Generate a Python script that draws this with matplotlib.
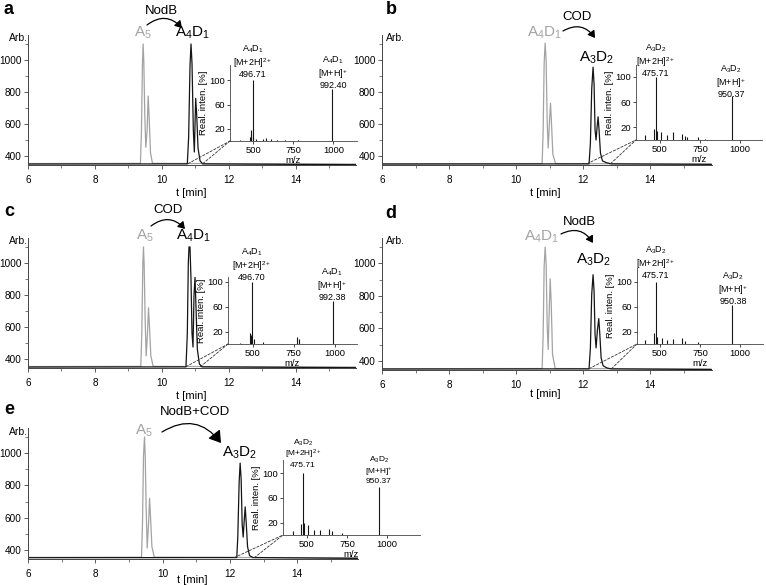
import matplotlib
matplotlib.use("Agg")
import matplotlib.pyplot as plt
from matplotlib.patches import FancyArrowPatch, ConnectionPatch
from matplotlib.ticker import MultipleLocator

plt.rcParams['font.family'] = 'Liberation Sans'
plt.rcParams['mathtext.fontset'] = 'custom'
plt.rcParams['mathtext.rm'] = 'Liberation Sans'
plt.rcParams['mathtext.it'] = 'Liberation Sans:italic'
plt.rcParams['mathtext.bf'] = 'Liberation Sans:bold'

W, H = 766, 585
GRAY = '#a3a3a3'
BLACK = '#151515'

# ---- chromatogram traces (t [min], Arb.) ----
a_gray_t = [6.0, 9.36, 9.39, 9.42, 9.44, 9.46, 9.49, 9.52, 9.56, 9.59, 9.62, 9.66, 9.72, 15.8]
a_gray_y = [353, 354, 560, 980, 1100, 990, 650, 455, 560, 775, 640, 420, 354, 350]
a_black_t = [6.0, 10.76, 10.80, 10.84, 10.87, 10.90, 10.94, 10.97, 11.01, 11.04, 11.08, 11.14, 11.22, 15.8]
a_black_y = [350, 351, 520, 960, 1100, 980, 560, 425, 760, 660, 450, 370, 351, 346]

b_gray_t = [6.0, 10.78, 10.81, 10.84, 10.87, 10.90, 10.93, 10.96, 11.00, 11.03, 11.06, 11.10, 11.18, 15.8]
b_gray_y = [352, 353, 560, 980, 1105, 990, 620, 450, 620, 730, 600, 410, 353, 350]
b_black_t = [6.0, 12.18, 12.22, 12.26, 12.30, 12.33, 12.36, 12.39, 12.42, 12.45, 12.48, 12.52, 12.58, 12.70, 12.85, 15.85]
b_black_y = [350, 351, 480, 820, 955, 850, 560, 500, 580, 645, 560, 420, 370, 358, 351, 348]

c_gray_t = [6.0, 9.37, 9.40, 9.43, 9.45, 9.47, 9.50, 9.53, 9.57, 9.60, 9.63, 9.67, 9.74, 15.8]
c_gray_y = [353, 354, 560, 980, 1100, 990, 650, 420, 560, 720, 600, 420, 354, 350]
c_black_t = [6.0, 10.72, 10.76, 10.79, 10.81, 10.84, 10.87, 10.90, 10.93, 10.96, 10.99, 11.02, 11.06, 11.12, 11.20, 15.8]
c_black_y = [350, 351, 560, 1000, 1100, 1100, 900, 560, 475, 800, 910, 720, 460, 370, 351, 346]

d_gray_t = [6.0, 10.78, 10.81, 10.84, 10.87, 10.90, 10.93, 10.96, 10.99, 11.02, 11.05, 11.09, 11.17, 15.8]
d_gray_y = [352, 353, 560, 980, 1100, 990, 620, 470, 700, 905, 760, 440, 353, 350]
d_black_t = [6.0, 12.18, 12.22, 12.26, 12.30, 12.33, 12.36, 12.39, 12.43, 12.47, 12.50, 12.54, 12.60, 12.72, 12.85, 15.85]
d_black_y = [350, 351, 480, 810, 930, 830, 560, 480, 590, 660, 570, 420, 370, 356, 351, 347]

e_gray_t = [6.0, 9.37, 9.40, 9.43, 9.46, 9.48, 9.51, 9.54, 9.58, 9.61, 9.64, 9.68, 9.75, 15.8]
e_gray_y = [354, 355, 560, 980, 1100, 990, 650, 412, 560, 720, 600, 420, 355, 351]
e_black_t = [6.0, 12.20, 12.23, 12.27, 12.30, 12.33, 12.36, 12.39, 12.42, 12.45, 12.48, 12.52, 12.58, 12.68, 15.8]
e_black_y = [352, 353, 480, 820, 938, 840, 560, 480, 580, 667, 570, 420, 365, 353, 348]

# ---- mass spectra (m/z, relative intensity %) ----
a_ms_mz = [420, 480, 484, 489, 496.71, 500, 520, 560, 580, 610, 650, 700, 780, 992.40]
a_ms_int = [2, 6, 18, 12, 100, 6, 3, 4, 5, 3, 2, 2, 2, 85]
b_ms_mz = [410, 466, 475.71, 484, 510, 545, 580, 640, 655, 670, 740, 780, 950.37]
b_ms_int = [8, 18, 100, 15, 12, 8, 12, 10, 6, 4, 5, 2, 70]
c_ms_mz = [420, 485, 490, 496.70, 505, 560, 770, 780, 992.38]
c_ms_int = [2, 18, 15, 100, 8, 3, 12, 8, 70]
d_ms_mz = [410, 466, 475.71, 481, 510, 545, 580, 640, 655, 740, 950.38]
d_ms_int = [6, 18, 100, 12, 10, 6, 8, 10, 5, 3, 63]
e_ms_mz = [415, 466, 475.71, 481, 510, 545, 580, 640, 655, 720, 950.37]
e_ms_int = [6, 18, 100, 20, 16, 8, 8, 10, 6, 4, 77]

fig = plt.figure(figsize=(W / 100, H / 100), dpi=100)


def rect(l, t, r, b):
    return [l / W, 1 - b / H, (r - l) / W, (b - t) / H]


def ftext(x, y, s, **kw):
    kw.setdefault('ha', 'center')
    kw.setdefault('va', 'center')
    fig.text(x / W, 1 - y / H, s, **kw)


def arrow(x0, y0, x1, y1, big=False):
    style = '-|>,head_length=7,head_width=4.5' if big else '-|>,head_length=4,head_width=2.5'
    fig.patches.append(FancyArrowPatch(
        (x0 / W, 1 - y0 / H), (x1 / W, 1 - y1 / H), transform=fig.transFigure,
        connectionstyle='arc3,rad=-0.45', arrowstyle=style, color='black',
        lw=0.9, shrinkA=0, shrinkB=0))


def chrom(box, xmax, gray, black):
    ax = fig.add_axes(rect(*box))
    ax.plot(gray[0], gray[1], color=GRAY, lw=0.9)
    ax.plot(black[0], black[1], color=BLACK, lw=0.9)
    ax.set_xlim(6, xmax)
    ax.set_ylim(344, 1156)
    ax.set_xticks([6, 8, 10, 12, 14])
    ax.set_yticks([400, 600, 800, 1000])
    ax.xaxis.set_minor_locator(MultipleLocator(1))
    ax.yaxis.set_minor_locator(MultipleLocator(100))
    for s in ['top', 'right']:
        ax.spines[s].set_visible(False)
    for s in ['left', 'bottom']:
        ax.spines[s].set_color('#444444')
        ax.spines[s].set_linewidth(0.7)
    ax.tick_params(which='major', length=3, width=0.6, labelsize=7.2, colors='#444444',
                   labelcolor='black')
    ax.tick_params(axis='y', which='major', pad=1.5)
    ax.tick_params(axis='x', which='major', pad=4)
    ax.tick_params(which='minor', length=2, width=0.5, colors='#444444')
    return ax


def spectrum(box, xlim, ylim, mz, inten):
    ax = fig.add_axes(rect(*box))
    ax.vlines(mz, 0, inten, color=BLACK, lw=0.8)
    ax.set_xlim(*xlim)
    ax.set_ylim(*ylim)
    ax.set_xticks([500, 750, 1000])
    ax.set_yticks([20, 60, 100])
    ax.patch.set_alpha(0)
    for s in ['top', 'right']:
        ax.spines[s].set_visible(False)
    for s in ['left', 'bottom']:
        ax.spines[s].set_color('#444444')
        ax.spines[s].set_linewidth(0.6)
    ax.tick_params(length=2, width=0.5, labelsize=6.8, pad=1.5)
    ax.set_xlabel('m/z', fontsize=6.8, labelpad=0.5)
    ax.set_ylabel('Real. inten. [%]', fontsize=6.8, labelpad=1)
    return ax


def links(ax, axin, t0, t1, y0=352):
    for t in (t0, t1):
        fig.add_artist(ConnectionPatch(xyA=(t, y0), coordsA=ax.transData,
                                       xyB=(0, 0), coordsB=axin.transAxes,
                                       ls=(0, (3, 2)), lw=0.6, color='#333333'))


def ms_label(x, y_mid, lines, size=6.5, spacing=1.05):
    # one multi-line block, centred on its middle line
    ftext(x, y_mid, '\n'.join(lines), fontsize=size, linespacing=spacing,
          multialignment='center')


A5 = r'A$_5$'
A4D1 = r'A$_4$D$_1$'
A3D2 = r'A$_3$D$_2$'

# ---------------- panel a ----------------
ax = chrom((28, 35, 356, 165), 15.8, (a_gray_t, a_gray_y), (a_black_t, a_black_y))
axin = spectrum((230, 65, 357, 141), (355, 1147), (0, 125), a_ms_mz, a_ms_int)
links(ax, axin, 10.78, 11.22)
ftext(9, 10, 'a', fontsize=13, fontweight='bold')
ftext(18, 38, 'Arb.', fontsize=7.5)
ftext(191, 193, 't [min]', fontsize=8)
ftext(161, 11, 'NodB', fontsize=9.5)
ftext(143, 33, A5, fontsize=11, color=GRAY)
ftext(193, 33, A4D1, fontsize=11)
arrow(147, 25, 182, 28)
ms_label(253, 61, [A4D1, r'[M+2H]$^{2+}$', '496.71'])
ms_label(333, 72, [A4D1, r'[M+H]$^{+}$', '992.40'])

# ---------------- panel b ----------------
ax = chrom((382, 35, 712, 165), 15.85, (b_gray_t, b_gray_y), (b_black_t, b_black_y))
axin = spectrum((636, 65, 762, 140), (351, 1137), (0, 119), b_ms_mz, b_ms_int)
links(ax, axin, 12.12, 12.82)
ftext(391, 10, 'b', fontsize=13, fontweight='bold')
ftext(395, 38, 'Arb.', fontsize=7.5)
ftext(545, 193, 't [min]', fontsize=8)
ftext(577, 17, 'COD', fontsize=9.5)
ftext(545, 33, A4D1, fontsize=11, color=GRAY)
ftext(597, 58, A3D2, fontsize=11)
arrow(563, 31, 595, 38)
ms_label(656, 60, [A3D2, r'[M+2H]$^{2+}$', '475.71'])
ms_label(731, 81, [A3D2, r'[M+H]$^{+}$', '950.37'])

# ---------------- panel c ----------------
ax = chrom((28, 238, 356, 368), 15.8, (c_gray_t, c_gray_y), (c_black_t, c_black_y))
axin = spectrum((228, 277, 357, 344), (348, 1137), (0, 108), c_ms_mz, c_ms_int)
links(ax, axin, 10.72, 11.15)
ftext(9, 212, 'c', fontsize=13, fontweight='bold')
ftext(18, 241, 'Arb.', fontsize=7.5)
ftext(191, 396, 't [min]', fontsize=8)
ftext(168, 210, 'COD', fontsize=9.5)
ftext(145, 236, A5, fontsize=11, color=GRAY)
ftext(194, 236, A4D1, fontsize=11)
arrow(151, 226, 185, 229)
ms_label(252, 264, [A4D1, r'[M+2H]$^{2+}$', '496.70'])
ms_label(332, 284, [A4D1, r'[M+H]$^{+}$', '992.38'])

# ---------------- panel d ----------------
ax = chrom((382, 238, 712, 370), 15.85, (d_gray_t, d_gray_y), (d_black_t, d_black_y))
axin = spectrum((637, 268, 763, 344), (357, 1143), (0, 122), d_ms_mz, d_ms_int)
links(ax, axin, 12.18, 12.85)
ftext(391, 213, 'd', fontsize=13, fontweight='bold')
ftext(395, 241, 'Arb.', fontsize=7.5)
ftext(545, 394, 't [min]', fontsize=8)
ftext(579, 222, 'NodB', fontsize=9.5)
ftext(542, 237, A4D1, fontsize=11, color=GRAY)
ftext(594, 260, A3D2, fontsize=11)
arrow(561, 234, 593, 243)
ms_label(656, 262, [A3D2, r'[M+2H]$^{2+}$', '475.71'])
ms_label(733, 288, [A3D2, r'[M+H]$^{+}$', '950.38'])

# ---------------- panel e ----------------
ax = chrom((28, 428, 358, 559), 15.8, (e_gray_t, e_gray_y), (e_black_t, e_black_y))
axin = spectrum((283, 460, 420, 535), (351, 1206), (0, 121), e_ms_mz, e_ms_int)
links(ax, axin, 12.12, 12.72)
ftext(9, 410, 'e', fontsize=13, fontweight='bold')
ftext(18, 432, 'Arb.', fontsize=7.5)
ftext(192, 580, 't [min]', fontsize=8)
ftext(195, 412, 'NodB+COD', fontsize=9.5)
ftext(144, 431, A5, fontsize=11, color=GRAY)
ftext(240, 453, A3D2, fontsize=11)
arrow(162, 432, 221, 443, big=True)
ms_label(303, 453, [A3D2, r'[M+2H]$^{2+}$', '475.71'], size=6)
ms_label(379, 470, [A3D2, r'[M+H]$^{+}$', '950.37'], size=6)

fig.savefig('out.png', dpi=100)
